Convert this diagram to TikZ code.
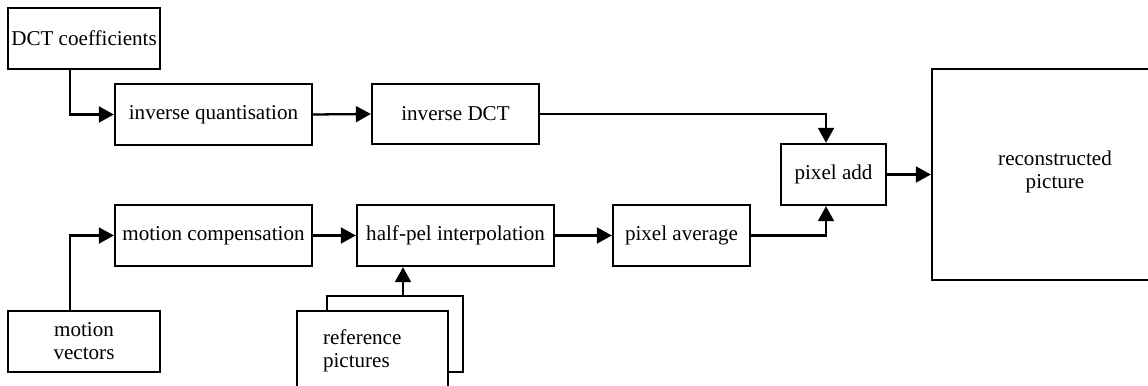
\documentclass[tikz,border=0pt]{standalone}
\usepackage{fontspec}
\setmainfont{Liberation Serif}
\usetikzlibrary{arrows.meta}
\begin{document}
\begin{tikzpicture}[font=\fontsize{12}{13}\selectfont, line width=1.3pt, line join=miter, >={Triangle[length=8.5pt,width=9pt]},
	blk/.style={draw, inner sep=0pt, minimum height=1.22cm, align=center}]
	\useasboundingbox (0,0) rectangle (22.96,-7.72);
	% upper row
	\node[blk, minimum width=3.04cm] (dct) at (1.68,-0.77) {DCT coefficients};
	\node[blk, minimum width=3.94cm] (iq) at (4.27,-2.29) {inverse quantisation};
	\node[blk, minimum width=3.34cm, minimum height=1.2cm] (idct) at (9.11,-2.28) {inverse DCT};
	\node[blk, minimum width=2.10cm] (add) at (16.67,-3.49) {pixel add};
	\node[blk, minimum width=4.92cm, minimum height=4.22cm] (rec) at (21.10,-3.49) {reconstructed\\picture\\[-0.26cm]};
	% lower row
	\node[blk, minimum width=3.94cm] (mc) at (4.27,-4.71) {motion compensation};
	\node[blk, minimum width=3.94cm] (hp) at (9.11,-4.71) {half-pel interpolation};
	\node[blk, minimum width=2.74cm] (avg) at (13.63,-4.71) {pixel average};
	\node[blk, minimum width=3.04cm] (mv) at (1.68,-6.83) {motion\\vectors};
	\node[blk, minimum width=2.72cm, minimum height=1.52cm] (refb) at (7.90,-6.68) {};
	\node[blk, fill=white, minimum height=1.6cm, text width=1.98cm, inner xsep=0.52cm, align=left] (ref) at (7.45,-7.02) {reference\\pictures};
	% connectors
	\draw[->] ([xshift=-0.28cm]dct.south) |- (iq.west);
	\draw[->] (iq.east) -- (idct.west);
	\draw[->] (idct.east) -| ([xshift=-0.15cm]add.north);
	\draw[->] (add.east) -- (rec.west);
	\draw[->] ([xshift=-0.28cm]mv.north) |- (mc.west);
	\draw[->] (mc.east) -- (hp.west);
	\draw[->] (hp.east) -- (avg.west);
	\draw[->] (avg.east) -| ([xshift=-0.15cm]add.south);
	\draw[->] ([xshift=0.16cm]refb.north) -- ([xshift=0.16cm]refb.north |- hp.south);
\end{tikzpicture}
\end{document}
